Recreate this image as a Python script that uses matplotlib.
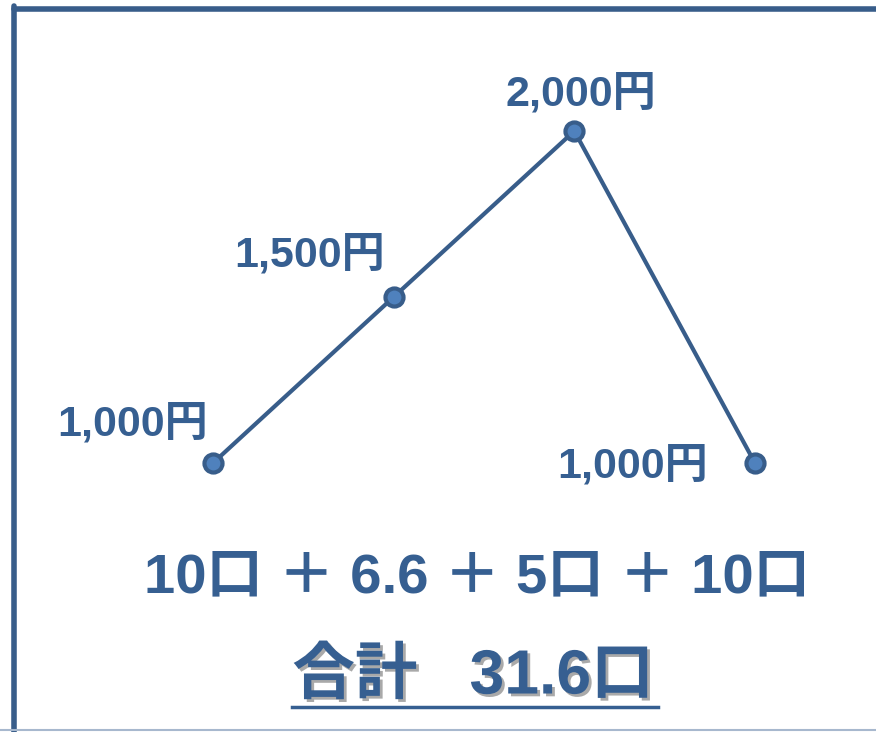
import matplotlib
matplotlib.use("Agg")
import matplotlib.pyplot as plt
import matplotlib.patheffects as pe
from matplotlib.lines import Line2D

plt.rcParams["font.family"] = ["Liberation Sans", "Noto Sans CJK JP", "DejaVu Sans"]

# data
steps = [0, 1, 2, 3]
prices = [1000, 1500, 2000, 1000]
price_labels = ["1,000円", "1,500円", "2,000円", "1,000円"]
label_offsets = [(-80, 39), (-84, 42), (7, 37), (-122, -3)]  # pixels
sum_text = "10口 ＋ 6.6 ＋ 5口 ＋ 10口"
total_text = "合計   31.6口"

text_col = "#365F91"
line_col = "#385D8A"
marker_col = "#4F81BD"

fig = plt.figure(figsize=(8.76, 7.32), dpi=100)
ax = fig.add_axes([0, 0, 1, 1])
ax.set_xlim(-1.179, 3.670)
ax.set_ylim(189.8, 2394.6)
ax.axis("off")

ax.plot(steps, prices, color=line_col, lw=3, marker="o", ms=13,
        mfc=marker_col, mec=line_col, mew=3, zorder=3)

for x, y, lab, off in zip(steps, prices, price_labels, label_offsets):
    ax.annotate(lab, (x, y), xytext=off, textcoords="offset pixels",
                ha="center", va="center", fontsize=31, fontweight="bold",
                color=text_col)

fig.text(0.545, 1 - 578 / 732, sum_text, ha="center", va="center",
         fontsize=40.5, fontweight="bold", color=text_col)

shadow = [pe.withSimplePatchShadow(offset=(2, -2), shadow_rgbFace="#555555", alpha=0.5)]
tot = fig.text(0.540, 1 - 677 / 732, total_text, ha="center", va="center",
               fontsize=45, fontweight="bold", color=text_col)
tot.set_path_effects(shadow)

# underline under the total, from the text's extent
fig.canvas.draw()
bb = tot.get_window_extent().transformed(fig.transFigure.inverted())
ul = Line2D([bb.x0, bb.x1 + 0.005], [1 - 707 / 732] * 2, transform=fig.transFigure,
            color=text_col, lw=2.5, path_effects=shadow)
fig.add_artist(ul)

# frame (top and left edges), plus faint line at the bottom
fig.add_artist(Line2D([13.5 / 876, 13.5 / 876], [0, 1 - 6 / 732], transform=fig.transFigure,
                      color=line_col, lw=4, solid_capstyle="round"))
fig.add_artist(Line2D([13.5 / 876, 1], [1 - 8.5 / 732] * 2, transform=fig.transFigure,
                      color=line_col, lw=4, solid_capstyle="round"))
fig.add_artist(Line2D([0, 1], [1 - 729.5 / 732] * 2, transform=fig.transFigure,
                      color="#A7B8CE", lw=1.5))

fig.savefig("out.png", dpi=100)
